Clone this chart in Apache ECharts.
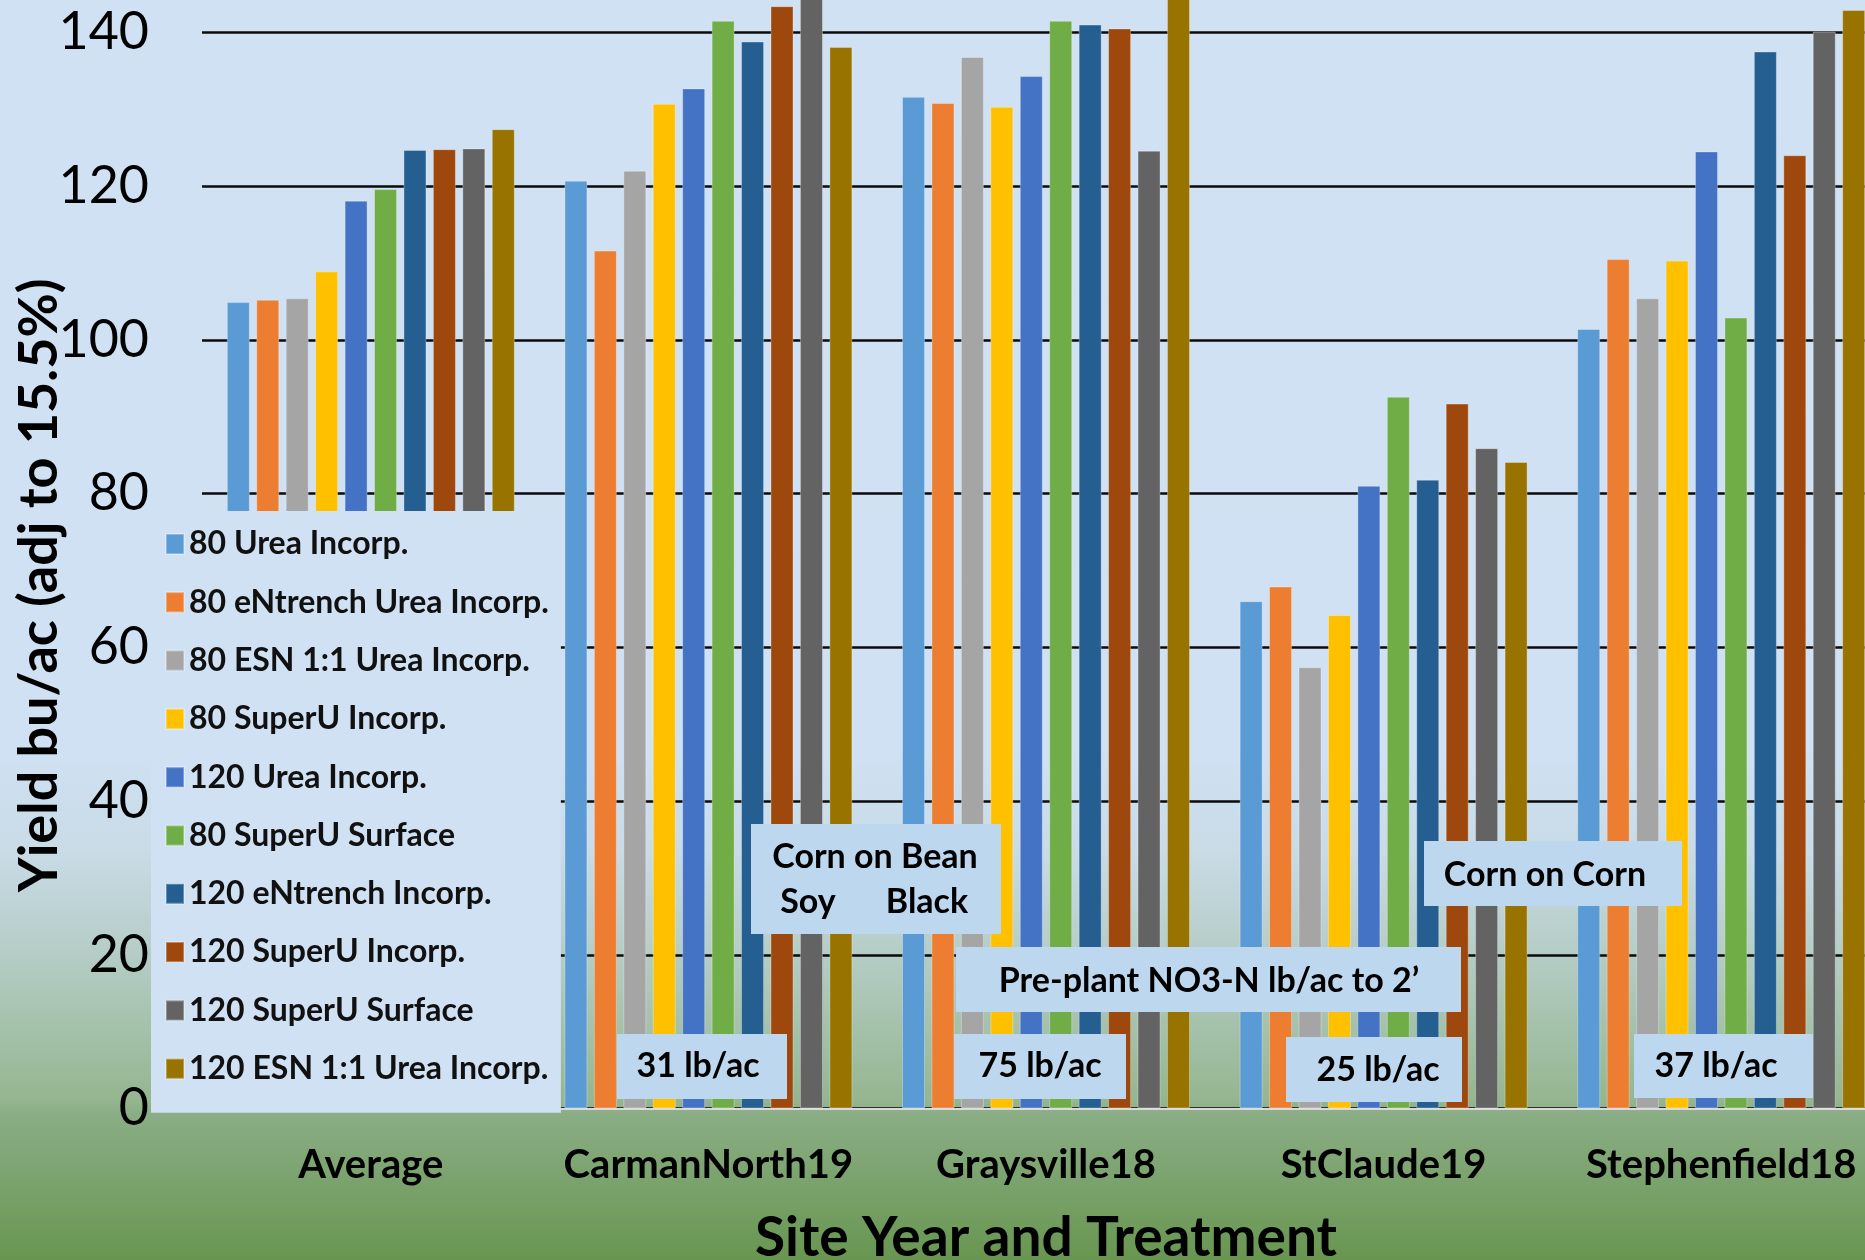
<!DOCTYPE html>
<html>
<head>
<meta charset="utf-8">
<script src="https://cdn.jsdelivr.net/npm/echarts@6/dist/echarts.min.js"></script>
<style>
  html, body { margin: 0; padding: 0; }
  #chart { width: 1865px; height: 1260px; }
</style>
</head>
<body>
<div id="chart"></div>
<script>
// Site years on the category axis
const siteYears = ['Average', 'CarmanNorth19', 'Graysville18', 'StClaude19', 'Stephenfield18'];

// Treatment names (legend order)
const treatments = [
  '80 Urea Incorp.',
  '80 eNtrench Urea Incorp.',
  '80 ESN 1:1 Urea Incorp.',
  '80 SuperU Incorp.',
  '120 Urea Incorp.',
  '80 SuperU Surface',
  '120 eNtrench Incorp.',
  '120 SuperU Incorp.',
  '120 SuperU Surface',
  '120 ESN 1:1 Urea Incorp.'
];

// Yield bu/ac per treatment, one value per site year
const urea80         = [104.9, 120.7, 131.6, 66.0, 101.4];
const entrenchUrea80 = [105.2, 111.6, 130.8, 67.9, 110.5];
const esnUrea80      = [105.4, 122.0, 136.8, 57.4, 105.4];
const superUInc80    = [108.9, 130.7, 130.3, 64.2, 110.3];
const urea120        = [118.1, 132.7, 134.3, 81.0, 124.5];
const superUSurf80   = [119.6, 141.5, 141.5, 92.6, 102.9];
const entrench120    = [124.7, 138.8, 141.0, 81.8, 137.5];
const superUInc120   = [124.8, 143.4, 140.5, 91.7, 124.0];
const superUSurf120  = [124.9, 149.0, 124.6, 85.9, 140.1];
const esnUrea120     = [127.4, 138.1, 144.6, 84.1, 142.9];

const yieldSeries = [urea80, entrenchUrea80, esnUrea80, superUInc80, urea120,
                     superUSurf80, entrench120, superUInc120, superUSurf120, esnUrea120];

// Y axis ticks
const yMin = 0, yMax = 140, yStep = 20;

const palette = ['#5b9bd5', '#ed7d31', '#a5a5a5', '#ffc000', '#4472c4',
                 '#70ad47', '#255e91', '#9e480e', '#636363', '#997300'];

const SANS = 'Lato, "Open Sans", sans-serif';

// Light-blue text boxes with notes on the plot
function noteBox(x, y, w, h) {
  return { type: 'rect', z: 100, shape: { x: x, y: y, width: w, height: h },
           style: { fill: '#bdd7ee' } };
}
function noteText(text, x, y) {
  return { type: 'text', z: 101, x: x, y: y,
           style: { text: text, fill: '#000', font: 'bold 34px ' + SANS,
                    align: 'center', verticalAlign: 'middle' } };
}

const chart = echarts.init(document.getElementById('chart'));

chart.setOption({
  animation: false,
  backgroundColor: {
    type: 'linear', x: 0, y: 0, x2: 0, y2: 1,
    colorStops: [
      { offset: 0, color: '#cfe1f2' },
      { offset: 0.6, color: '#cfe1f2' },
      { offset: 0.677, color: '#c8dbe6' },
      { offset: 0.756, color: '#b5cdc6' },
      { offset: 0.873, color: '#95b690' },
      { offset: 0.885, color: '#8aad85' },
      { offset: 1, color: '#689650' }
    ]
  },
  color: palette,
  grid: { left: 202, right: -25, top: 32.3, bottom: 151.5, containLabel: false,
          outerBoundsMode: 'none' },
  legend: {
    data: treatments,
    orient: 'vertical',
    left: 151,
    top: 511,
    backgroundColor: '#cfe1f2',
    padding: [17, 12, 28, 14],
    itemWidth: 18,
    itemHeight: 20,
    itemGap: 26.3,
    selectedMode: false,
    icon: 'rect',
    textStyle: { fontFamily: SANS, fontWeight: 'bold', fontSize: 32, color: '#111' }
  },
  xAxis: {
    type: 'category',
    data: siteYears,
    axisTick: { show: false },
    axisLine: { lineStyle: { color: '#d9d9d9', width: 2 } },
    axisLabel: { interval: 0, fontFamily: SANS, fontWeight: 'bold', fontSize: 40, color: '#000',
                 margin: 37, lineHeight: 40 },
    name: 'Site Year and Treatment',
    nameLocation: 'middle',
    nameGap: 102,
    nameMoveOverlap: false,
    nameTextStyle: { fontFamily: SANS, fontWeight: 'bold', fontSize: 55, color: '#000', lineHeight: 55 }
  },
  yAxis: {
    type: 'value',
    min: yMin, max: yMax, interval: yStep,
    axisLine: { show: false },
    axisTick: { show: false },
    splitLine: { lineStyle: { color: '#0a0a0a', width: 2.5 } },
    axisLabel: { fontFamily: SANS, fontSize: 52, color: '#000', margin: 53 },
    name: 'Yield bu/ac (adj to 15.5%)',
    nameLocation: 'middle',
    nameRotate: 90,
    nameGap: 135,
    nameMoveOverlap: false,
    nameTextStyle: { fontFamily: SANS, fontWeight: 'bold', fontSize: 54, color: '#000',
                     lineHeight: 54, padding: [0, 30, 0, 0] }
  },
  series: yieldSeries.map(function (vals, i) {
    return {
      name: treatments[i],
      type: 'bar',
      data: vals,
      barWidth: 23,
      barGap: '28%',
      clip: false,
      itemStyle: { color: palette[i], borderColor: 'rgba(255,255,255,0.3)', borderWidth: 1 },
      emphasis: { disabled: true }
    };
  }),
  graphic: [
    noteBox(751, 824, 250, 110),
    noteText('Corn on Bean', 875, 857),
    noteText('Soy', 808, 902),
    noteText('Black', 927, 902),
    noteBox(1424, 841, 258, 65),
    noteText('Corn on Corn', 1545, 875),
    noteBox(956, 947, 505, 65),
    noteText('Pre-plant NO3-N lb/ac to 2\u2019', 1209, 981),
    noteBox(617, 1034, 170, 65),
    noteText('31 lb/ac', 698, 1066),
    noteBox(954, 1034, 172, 65),
    noteText('75 lb/ac', 1040, 1066),
    noteBox(1286, 1037, 176, 65),
    noteText('25 lb/ac', 1378, 1070),
    noteBox(1634, 1034, 179, 64),
    noteText('37 lb/ac', 1716, 1066)
  ]
});
</script>
</body>
</html>
